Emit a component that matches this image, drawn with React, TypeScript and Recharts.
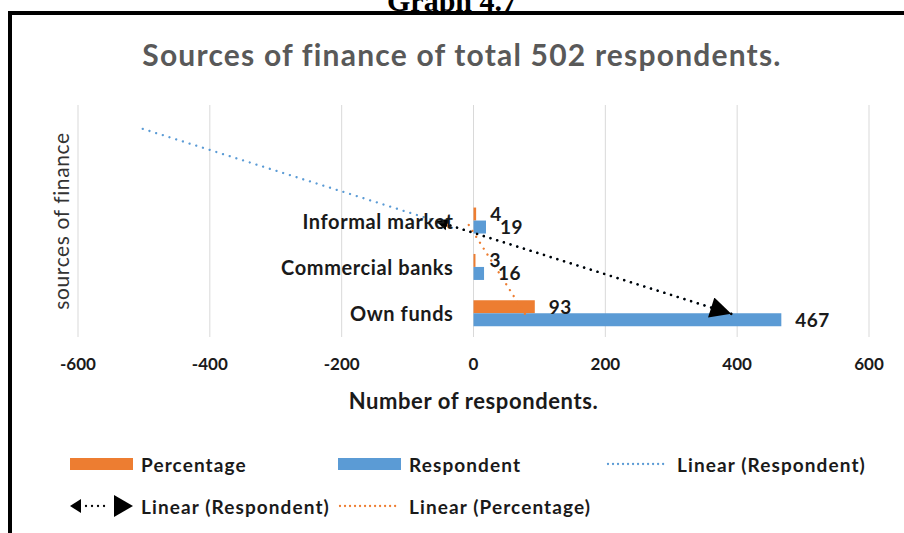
import React from "react"
import { ComposedChart, Bar, Line, XAxis, YAxis, CartesianGrid, LabelList } from "recharts"

const categories = ["Own funds", "Commercial banks", "Informal market"]
const percentage = [93, 3, 4]
const respondents = [467, 16, 19]
// trendline end points, category slots 1..5 (4 and 5 are the forecast)
const respTrendForecast = [391, null, null, null, -505]
const respTrendArrow = [391, null, -57, null, null]
const pctTrend = [78, null, -11, null, null]
const xTicks = [-600, -400, -200, 0, 200, 400, 600]

const data = respTrendForecast.map((_, i) => ({
  name: categories[i] ?? "",
  pct: percentage[i],
  resp: respondents[i],
  trendRespF: respTrendForecast[i],
  trendRespA: respTrendArrow[i],
  trendPct: pctTrend[i],
}))

const ORANGE = "#ED7D31"
const BLUE = "#5B9BD5"
const FONT = "Lato, 'Open Sans', sans-serif"
const INK = "#1a1a1a"

function CategoryLabel(props: any) {
  const { x, y, value } = props
  if (!value) return null
  return (
    <text x={x - 20} y={y} textAnchor="end" dominantBaseline="central" fontFamily={FONT} fontWeight={700} fontSize={20} letterSpacing={0.6} fill={INK}>
      {value}
    </text>
  )
}

function YTitle(props: any) {
  const { viewBox } = props
  const cx = viewBox.x + 22
  const cy = viewBox.y + viewBox.height / 2
  return (
    <text x={cx} y={cy} transform={`rotate(-90 ${cx} ${cy})`} textAnchor="middle" dominantBaseline="central" fontFamily={FONT} fontSize={21} letterSpacing={0.6} fill="#333">
      sources of finance
    </text>
  )
}

const dotted = { strokeDasharray: "0.01 7", strokeLinecap: "round" as const }

function LegendItem({ swatch, label }: { swatch: React.ReactNode; label: string }) {
  return (
    <div style={{ display: "flex", alignItems: "center", width: 268, height: 24 }}>
      <div style={{ width: 63, height: 24, display: "flex", alignItems: "center" }}>{swatch}</div>
      <span style={{ marginLeft: 8, whiteSpace: "nowrap" }}>{label}</span>
    </div>
  )
}

export default function App() {
  const barLabelStyle = { fontFamily: FONT, fontWeight: 700, fontSize: 19, fill: INK, letterSpacing: 0.5 }
  return (
    <div style={{ position: "fixed", top: 0, left: 0, width: 904, height: 533, overflow: "hidden", background: "#fff" }}>
      <div style={{ position: "absolute", top: -16, left: 0, width: 904, textAlign: "center", fontFamily: "'Liberation Serif', serif", fontWeight: 700, fontSize: 30 }}>
        Graph 4.7
      </div>
      <div style={{ position: "absolute", left: 8, top: 11, width: 896, height: 522, boxSizing: "border-box", borderTop: "4px solid #000", borderLeft: "4px solid #000", background: "#fff" }} />
      <div style={{ position: "absolute", top: 36, left: 10, width: 904, textAlign: "center", fontFamily: FONT, fontWeight: 700, fontSize: 30, letterSpacing: 1.2, color: "#595959" }}>
        Sources of finance of total 502 respondents.
      </div>
      <div style={{ position: "absolute", top: 0, left: 0 }}>
        <ComposedChart width={904} height={533} data={data} layout="vertical" margin={{ top: 105, right: 35, bottom: 146, left: 38 }} barGap={0} barCategoryGap="21%">
          <defs>
            <marker id="arrowBig" viewBox="0 0 10 10" refX="10" refY="5" markerUnits="userSpaceOnUse" markerWidth="27" markerHeight="21" orient="auto-start-reverse">
              <path d="M0,0 L10,5 L0,10 z" fill="#000" />
            </marker>
            <marker id="arrowSmall" viewBox="0 0 10 10" refX="10" refY="5" markerUnits="userSpaceOnUse" markerWidth="12" markerHeight="16" orient="auto">
              <path d="M0,0 L10,5 L0,10 z" fill="#000" />
            </marker>
          </defs>
          <CartesianGrid horizontal={false} stroke="#D9D9D9" />
          <XAxis
            type="number"
            domain={[-600, 600]}
            ticks={xTicks}
            axisLine={false}
            tickLine={false}
            tickMargin={15}
            height={50}
            tick={{ fontFamily: FONT, fontWeight: 700, fontSize: 17, fill: INK }}
            label={{ value: "Number of respondents.", position: "bottom", offset: 6, style: { fontFamily: FONT, fontWeight: 700, fontSize: 22, letterSpacing: 0.6, fill: INK } }}
          />
          <YAxis type="category" reversed width={40} tick={false} axisLine={false} tickLine={false} label={{ content: YTitle }} />
          <Line dataKey="trendPct" stroke={ORANGE} strokeWidth={2.3} {...dotted} connectNulls dot={false} activeDot={false} isAnimationActive={false} />
          <Line dataKey="trendRespF" stroke={BLUE} strokeWidth={2.3} {...dotted} connectNulls dot={false} activeDot={false} isAnimationActive={false} />
          <Line dataKey="trendRespA" stroke="#000" strokeWidth={2.6} {...dotted} connectNulls dot={false} activeDot={false} markerStart="url(#arrowBig)" markerEnd="url(#arrowSmall)" isAnimationActive={false} />
          <Bar dataKey="pct" fill={ORANGE} isAnimationActive={false}>
            <LabelList dataKey="pct" position="right" offset={14} style={barLabelStyle} />
          </Bar>
          <Bar dataKey="resp" fill={BLUE} isAnimationActive={false}>
            <LabelList dataKey="resp" position="right" offset={14} style={barLabelStyle} />
            <LabelList dataKey="name" content={CategoryLabel} />
          </Bar>
        </ComposedChart>
      </div>
      <div style={{ position: "absolute", left: 70, top: 452, fontFamily: FONT, fontWeight: 700, fontSize: 19, letterSpacing: 1.1, color: INK, display: "flex", flexWrap: "wrap", width: 804, rowGap: 18 }}>
        <LegendItem swatch={<div style={{ width: 63, height: 12, background: ORANGE }} />} label="Percentage" />
        <LegendItem swatch={<div style={{ width: 63, height: 12, background: BLUE }} />} label="Respondent" />
        <LegendItem
          swatch={
            <svg width={63} height={10}>
              <line x1={2} y1={5} x2={62} y2={5} stroke={BLUE} strokeWidth={2.3} {...dotted} strokeDasharray="0.01 5" />
            </svg>
          }
          label="Linear (Respondent)"
        />
        <LegendItem
          swatch={
            <svg width={63} height={24}>
              <path d="M0,12 L11,5 L11,19 z" fill="#000" />
              <line x1={16} y1={12} x2={40} y2={12} stroke="#000" strokeWidth={2.3} {...dotted} strokeDasharray="0.01 6" />
              <path d="M44,1 L63,12 L44,23 z" fill="#000" />
            </svg>
          }
          label="Linear (Respondent)"
        />
        <LegendItem
          swatch={
            <svg width={63} height={10}>
              <line x1={2} y1={5} x2={62} y2={5} stroke={ORANGE} strokeWidth={2.3} {...dotted} strokeDasharray="0.01 5" />
            </svg>
          }
          label="Linear (Percentage)"
        />
      </div>
    </div>
  )
}
